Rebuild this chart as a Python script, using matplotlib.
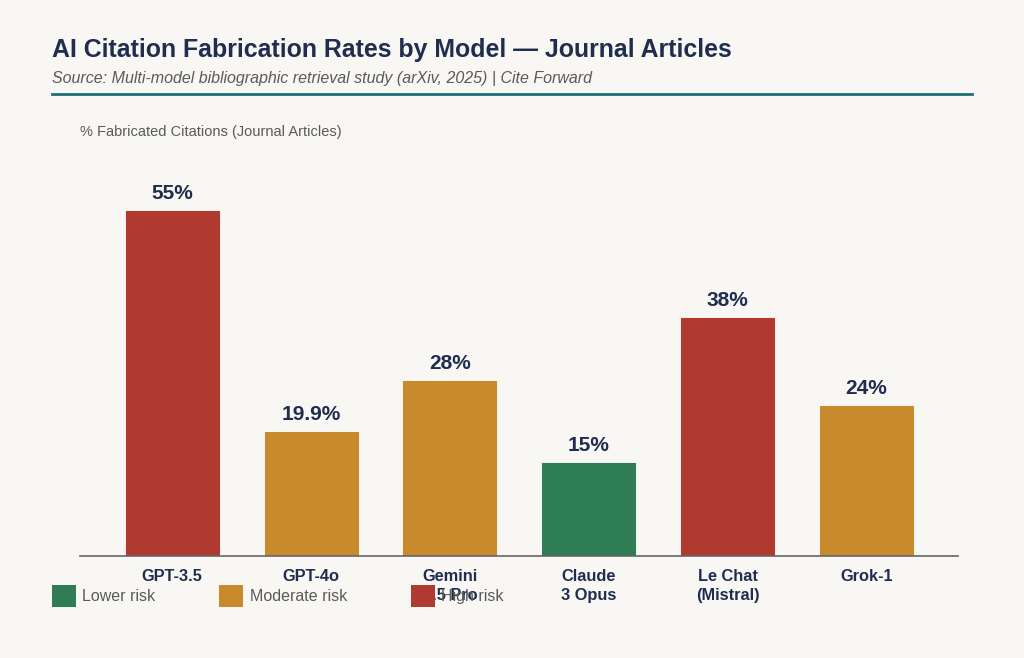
import matplotlib
matplotlib.use("Agg")
import matplotlib.pyplot as plt
from matplotlib.patches import Patch
from matplotlib.lines import Line2D

models = ["GPT-3.5", "GPT-4o", "Gemini\n1.5 Pro", "Claude\n3 Opus", "Le Chat\n(Mistral)", "Grok-1"]
rates = [55, 19.9, 28, 15, 38, 24]
rate_labels = ["55%", "19.9%", "28%", "15%", "38%", "24%"]
risk = ["high", "moderate", "moderate", "lower", "high", "moderate"]

risk_colors = {"lower": "#2E7D54", "moderate": "#C98A2C", "high": "#B03A2F"}
risk_names = [("lower", "Lower risk"), ("moderate", "Moderate risk"), ("high", "High risk")]

BG = "#F9F7F4"
NAVY = "#1F2D4E"
GRAY = "#5A5A5A"

plt.rcParams["font.family"] = ["Liberation Sans", "DejaVu Sans"]

W, H = 1024, 658
fig = plt.figure(figsize=(W / 100, H / 100), dpi=100, facecolor=BG)

# axes in pixel coords: left 80, right 958, top 150, baseline 556
ax = fig.add_axes([80 / W, 1 - 556 / H, (958 - 80) / W, (556 - 150) / H])
ax.set_facecolor(BG)

x = range(len(models))
colors = [risk_colors[r] for r in risk]
bars = ax.bar(x, rates, width=0.685, color=colors, edgecolor="white", linewidth=0.6)
ax.set_xlim(-0.665, len(models) - 1 + 0.66)
ax.set_ylim(0, 64.6)

for b, lab in zip(bars, rate_labels):
    ax.annotate(lab, (b.get_x() + b.get_width() / 2, b.get_height()),
                xytext=(0, 5), textcoords="offset points",
                ha="center", va="bottom", fontsize=15, fontweight="bold", color=NAVY)

ax.set_xticks(list(x))
ax.set_xticklabels(models, fontsize=11.8, fontweight="bold", color=NAVY, linespacing=1.3)
ax.tick_params(axis="x", length=0, pad=9.5)
ax.set_yticks([])
for s in ["top", "right", "left"]:
    ax.spines[s].set_visible(False)
ax.spines["bottom"].set_color("#666666")
ax.spines["bottom"].set_linewidth(1.2)

# title block
fig.text(52 / W, 1 - 50 / H, "AI Citation Fabrication Rates by Model \u2014 Journal Articles",
         fontsize=17.9, fontweight="bold", color=NAVY, ha="left", va="center")
fig.text(52 / W, 1 - 78 / H, "Source: Multi-model bibliographic retrieval study (arXiv, 2025) | Cite Forward",
         fontsize=11.5, style="italic", color=GRAY, ha="left", va="center")
fig.add_artist(Line2D([52 / W, 972 / W], [1 - 94 / H, 1 - 94 / H],
                      transform=fig.transFigure, color="#1F6F78", linewidth=2))
fig.text(80 / W, 1 - 132 / H, "% Fabricated Citations (Journal Articles)",
         fontsize=10.5, color=GRAY, ha="left", va="center")

handles = [Patch(facecolor=risk_colors[k], edgecolor="none", label=n) for k, n in risk_names]
fig.legend(handles=handles, loc="center left", bbox_to_anchor=(52 / W, 1 - 596 / H),
           ncol=3, frameon=False, fontsize=11.5, labelcolor=GRAY,
           borderpad=0, borderaxespad=0,
           handlelength=1.5, handleheight=1.8, handletextpad=0.4, columnspacing=4.0)

fig.savefig("out.png", dpi=100, facecolor=BG)
